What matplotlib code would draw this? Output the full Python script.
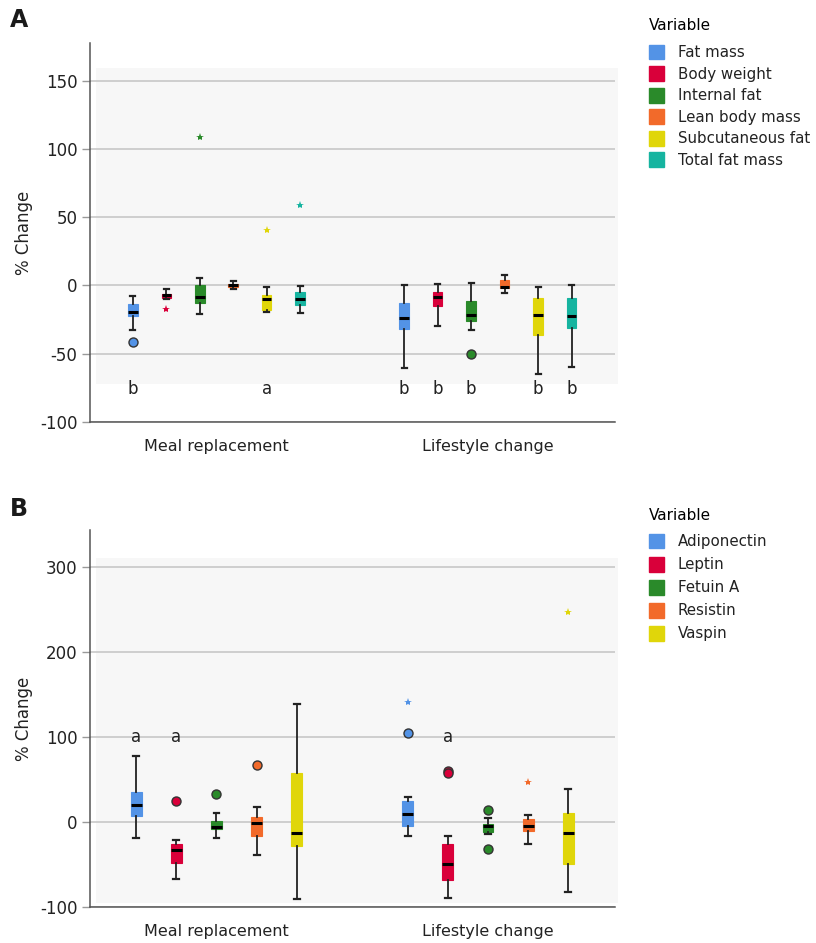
import numpy as np
import matplotlib.pyplot as plt
from matplotlib.patches import Rectangle, Patch

plt.rcParams['font.family'] = ['DejaVu Sans']
plt.rcParams['axes.unicode_minus'] = False

groups = ["Meal replacement", "Lifestyle change"]

# ---- panel A data: (whislo, q1, med, q3, whishi) per group
vars_a = ["Fat mass", "Body weight", "Internal fat", "Lean body mass",
          "Subcutaneous fat", "Total fat mass"]
colors_a = ["#5393E6", "#D9003A", "#2A8A2A", "#F26A2A", "#E0D60A", "#16B4A0"]
meal_a = [(-32.9, -22.4, -19.5, -13.4, -7.8),
          (-10.2, -9.3, -7.3, -6.1, -2.4),
          (-21.2, -12.7, -8.5, 0.0, 5.6),
          (-2.4, -1.2, 0.2, 1.2, 3.4),
          (-19.5, -18.0, -10.2, -7.3, -1.2),
          (-20.5, -14.4, -10.2, -4.9, -0.5)]
life_a = [(-60.7, -32.2, -23.6, -12.7, 0.7),
          (-29.7, -15.1, -8.8, -5.1, 1.2),
          (-32.9, -26.1, -21.7, -11.5, 1.5),
          (-5.8, -2.2, -1.0, 3.7, 8.0),
          (-65.0, -36.5, -21.9, -9.0, -1.0),
          (-59.4, -30.9, -22.4, -9.5, 0.7)]
circles_a = [[[-41.4], [], [], [], [], []],
             [[], [], [-50.2], [], [], []]]
stars_a = [[[], [-17.0], [109.0], [], [40.4], [58.7]],
           [[], [], [], [], [], []]]
letters_a = [["b", "", "", "", "a", ""],
             ["b", "b", "b", "", "b", "b"]]

# ---- panel B data
vars_b = ["Adiponectin", "Leptin", "Fetuin A", "Resistin", "Vaspin"]
colors_b = ["#5393E6", "#D9003A", "#2A8A2A", "#F26A2A", "#E0D60A"]
meal_b = [(-18.5, 7.5, 20.0, 35.0, 78.0),
          (-67.0, -48.6, -33.0, -26.0, -21.0),
          (-18.5, -8.2, -5.5, 1.2, 11.0),
          (-38.8, -16.5, -1.6, 5.5, 17.3),
          (-91.0, -28.2, -13.3, 58.0, 138.8)]
life_b = [(-16.5, -4.3, 9.4, 25.0, 29.8),
          (-90.0, -68.0, -49.0, -25.9, -16.5),
          (-14.5, -12.0, -4.3, -2.7, 5.0),
          (-26.3, -10.6, -4.3, 3.1, 8.2),
          (-82.0, -49.8, -12.5, 10.2, 38.4)]
circles_b = [[[], [25.0], [32.6], [66.7], []],
             [[104.3], [60.0, 57.5], [13.7, -32.0], [], []]]
stars_b = [[[], [], [], [], []],
           [[140.8], [], [], [47.0], [246.7]]]
letters_b = [["a", "a", "", "", ""],
             ["", "a", "", "", ""]]


def panel(ax, variables, colors, meal, life, circles, stars, letters,
          spacing, boxw, ylim, yticks, bg_y, letter_y):
    n = len(variables)
    ax.set_xlim(-0.466, 1.468)
    ax.set_ylim(*ylim)
    ax.add_patch(Rectangle((-0.444, bg_y[0]), 1.923, bg_y[1] - bg_y[0],
                           facecolor="#F7F7F7", edgecolor="none", zorder=0,
                           clip_on=False))
    for yv in yticks:
        ax.axhline(yv, color="#C8C8C8", lw=1.2, zorder=1)
    for g, data in enumerate([meal, life]):
        pos = [g + (i - (n - 1) / 2) * spacing for i in range(n)]
        stats = []
        for i, (lo, q1, med, q3, hi) in enumerate(data):
            stats.append(dict(whislo=lo, q1=q1, med=med, q3=q3, whishi=hi,
                              fliers=circles[g][i]))
        bp = ax.bxp(stats, positions=pos, widths=boxw, capwidths=boxw * 0.55,
                    patch_artist=True, manage_ticks=False,
                    medianprops=dict(color="black", lw=2.2),
                    whiskerprops=dict(color="#222222", lw=1.3),
                    capprops=dict(color="#222222", lw=1.6),
                    flierprops=dict(marker="o", markersize=6.5,
                                    markeredgecolor="#333333",
                                    markeredgewidth=1.0))
        for i in range(n):
            bp["boxes"][i].set_facecolor(colors[i])
            bp["boxes"][i].set_edgecolor(colors[i])
            bp["boxes"][i].set_linewidth(0.8)
            bp["fliers"][i].set_markerfacecolor(colors[i])
            if stars[g][i]:
                ax.plot([pos[i]] * len(stars[g][i]), stars[g][i], ls="none",
                        marker="*", markersize=6, color=colors[i],
                        markeredgewidth=0, zorder=4)
            if letters[g][i]:
                ax.text(pos[i], letter_y, letters[g][i], ha="center",
                        va="center", fontsize=12, color="#222222")
    ax.set_xticks([0, 1])
    ax.set_xticklabels(groups, fontsize=11.5, color="#222222")
    ax.tick_params(axis="x", length=0, pad=12)
    ax.set_yticks(yticks)
    ax.tick_params(axis="y", labelsize=12, length=6, color="#999999",
                   width=1, pad=3, labelcolor="#222222")
    ax.set_ylabel("% Change", fontsize=12, color="#222222", labelpad=5)
    for s in ["top", "right"]:
        ax.spines[s].set_visible(False)
    for s in ["left", "bottom"]:
        ax.spines[s].set_color("#555555")
        ax.spines[s].set_linewidth(1.1)
    ax.set_facecolor("white")


fig = plt.figure(figsize=(8.16, 9.43), dpi=100)
W, H = 816, 943
ax_a = fig.add_axes([90 / W, (H - 422) / H, 525 / W, 379 / H])
ax_b = fig.add_axes([90 / W, (H - 907) / H, 525 / W, 377 / H])

panel(ax_a, vars_a, colors_a, meal_a, life_a, circles_a, stars_a, letters_a,
      spacing=0.1234, boxw=0.035, ylim=(-100, 177.6),
      yticks=[-100, -50, 0, 50, 100, 150], bg_y=(-72, 159), letter_y=-76)
panel(ax_b, vars_b, colors_b, meal_b, life_b, circles_b, stars_b, letters_b,
      spacing=0.148, boxw=0.04, ylim=(-100, 343.5),
      yticks=[-100, 0, 100, 200, 300], bg_y=(-95, 310), letter_y=100)

fig.text(10 / W, 1 - 20 / H, "A", fontsize=17, fontweight="bold",
         va="center", ha="left", color="#1a1a1a")
fig.text(10 / W, 1 - 509 / H, "B", fontsize=17, fontweight="bold",
         va="center", ha="left", color="#1a1a1a")

for names, cols, ytop, lsp in [(vars_a, colors_a, 14, 0.4),
                               (vars_b, colors_b, 503, 0.5)]:
    handles = [Patch(facecolor=c, edgecolor=c) for c in cols]
    leg = fig.legend(handles, names, title="Variable", loc="upper left",
                     bbox_to_anchor=(644 / W, 1 - ytop / H), frameon=False,
                     fontsize=10.8, title_fontsize=11, handlelength=1.05,
                     handleheight=1.15, handletextpad=0.9, labelspacing=lsp,
                     borderaxespad=0, borderpad=0.3)
    leg._legend_box.align = "left"
    leg._legend_box.sep = 8
    for t in leg.get_texts():
        t.set_color("#222222")

fig.savefig("out.png", dpi=100)
